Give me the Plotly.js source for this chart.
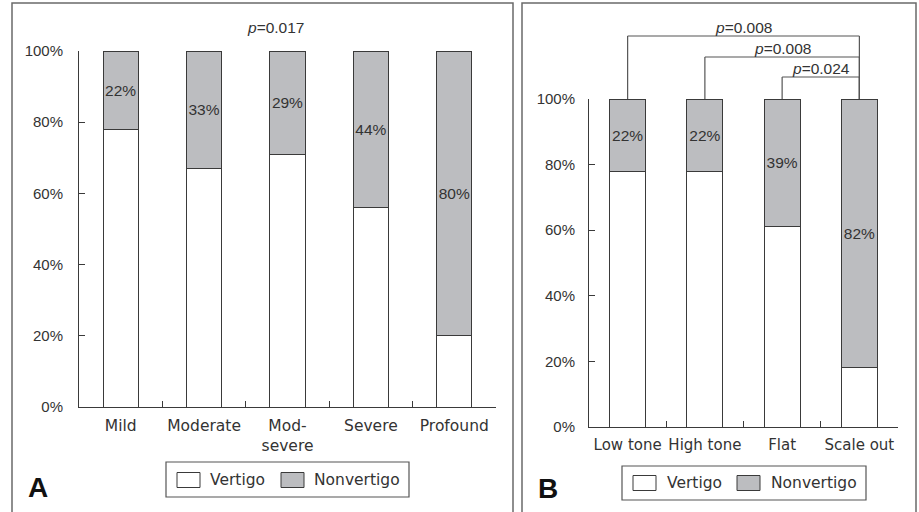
<!DOCTYPE html>
<html>
<head>
<meta charset="utf-8">
<script src="https://cdn.plot.ly/plotly-3.0.1.min.js"></script>
<style>html,body{margin:0;padding:0;background:#fff;}#chart{width:919px;height:512px;}</style>
</head>
<body>
<div id="chart"></div>
<script>
// ---- Data ----
const catsA = ['Mild', 'Moderate', 'Mod-<br>severe', 'Severe', 'Profound'];
const vertigoA = [78, 67, 71, 56, 20];
const nonvertigoA = [22, 33, 29, 44, 80];
const pValueA = '0.017';

const catsB = ['Low tone', 'High tone', 'Flat', 'Scale out'];
const vertigoB = [78, 78, 61, 18];
const nonvertigoB = [22, 22, 39, 82];
const bracketFromB = ['Low tone', 'High tone', 'Flat'];
const bracketToB = ['Scale out', 'Scale out', 'Scale out'];
const pValuesB = ['0.008', '0.008', '0.024'];

const seriesNames = ['Vertigo', 'Nonvertigo'];
const panelLabels = ['A', 'B'];
const yTicks = [0, 20, 40, 60, 80, 100];

// ---- Styling ----
const W = 919, H = 512;
const px = v => v / W;
const py = v => 1 - v / H;
const GRAY = '#bcbdc0';
const EDGE = '#3a3a3a';
const TXT = '#333';
const NUMFONT = 'Liberation Sans, Arial, sans-serif';
const WORDFONT = 'DejaVu Sans, sans-serif';

function barTraces(cats, vert, non, xa, ya, width) {
  return [
    {type: 'bar', x: cats, y: vert, name: seriesNames[0], xaxis: xa, yaxis: ya,
     width: width, marker: {color: '#ffffff', line: {color: EDGE, width: 1}},
     hoverinfo: 'skip', showlegend: false},
    {type: 'bar', x: cats, y: non, name: seriesNames[1], xaxis: xa, yaxis: ya,
     width: width, marker: {color: GRAY, line: {color: EDGE, width: 1}},
     text: non.map(v => v + '%'), textposition: 'inside', insidetextanchor: 'middle',
     textangle: 0, constraintext: 'none',
     insidetextfont: {family: NUMFONT, size: 15.5, color: TXT},
     hoverinfo: 'skip', showlegend: false}
  ];
}

const data = [
  ...barTraces(catsA, vertigoA, nonvertigoA, 'x', 'y', 0.42),
  ...barTraces(catsB, vertigoB, nonvertigoB, 'x2', 'y2', 0.466)
];

function xAxis(domain, n, fs) {
  return {domain: domain, type: 'category', range: [-0.5, n - 0.5],
    showline: true, linecolor: EDGE, linewidth: 1, showgrid: false, zeroline: false,
    ticks: 'inside', tickson: 'boundaries', ticklen: 6, tickcolor: EDGE, tickwidth: 1,
    ticklabelstandoff: 4, tickangle: 0,
    tickfont: {family: WORDFONT, size: fs, color: TXT}, fixedrange: true};
}
function yAxis(domain, anchor, standoff) {
  return {domain: domain, anchor: anchor, range: [0, 100],
    tickvals: yTicks, ticktext: yTicks.map(v => v + '%'),
    showline: true, linecolor: EDGE, linewidth: 1, showgrid: false, zeroline: false,
    ticks: 'inside', ticklen: 6, tickcolor: EDGE, tickwidth: 1,
    ticklabelstandoff: standoff,
    tickfont: {family: NUMFONT, size: 15, color: TXT}, fixedrange: true};
}

const shapes = [];
const annotations = [];

// panel frames
shapes.push({type: 'rect', xref: 'paper', yref: 'paper', x0: px(12), x1: px(513), y0: -0.1, y1: py(3),
  line: {color: '#6a6a6a', width: 1.5}, fillcolor: 'rgba(0,0,0,0)'});
shapes.push({type: 'rect', xref: 'paper', yref: 'paper', x0: px(522), x1: px(916), y0: -0.1, y1: py(3),
  line: {color: '#6a6a6a', width: 1.5}, fillcolor: 'rgba(0,0,0,0)'});

// p value panel A
annotations.push({xref: 'paper', yref: 'paper', x: px(275), y: py(27), xanchor: 'center', yanchor: 'middle',
  text: '<i>p</i>=' + pValueA, showarrow: false, font: {family: NUMFONT, size: 15.5, color: TXT}});

// brackets panel B
const bracketLevels = [py(36), py(57), py(77)];
const barTop = py(99);
bracketFromB.forEach((from, i) => {
  const x0 = catsB.indexOf(from), x1 = catsB.indexOf(bracketToB[i]);
  const yl = bracketLevels[i];
  const ln = {color: '#555', width: 1.2};
  shapes.push({type: 'line', xref: 'x2', yref: 'paper', x0: x0, x1: x0, y0: barTop, y1: yl, line: ln});
  shapes.push({type: 'line', xref: 'x2', yref: 'paper', x0: x0, x1: x1, y0: yl, y1: yl, line: ln});
  shapes.push({type: 'line', xref: 'x2', yref: 'paper', x0: x1, x1: x1, y0: barTop, y1: yl, line: ln});
  annotations.push({xref: 'x2', yref: 'paper', x: (x0 + x1) / 2, y: yl, xanchor: 'center', yanchor: 'bottom',
    yshift: -2, text: '<i>p</i>=' + pValuesB[i], showarrow: false,
    font: {family: NUMFONT, size: 15.5, color: TXT}});
});

// custom legends
function legend(box, sq1, txt1, sq2, txt2, cy) {
  shapes.push({type: 'rect', xref: 'paper', yref: 'paper', x0: px(box[0]), x1: px(box[1]), y0: py(box[3]), y1: py(box[2]),
    line: {color: '#555', width: 1.2}, fillcolor: '#fff'});
  shapes.push({type: 'rect', xref: 'paper', yref: 'paper', x0: px(sq1), x1: px(sq1 + 23), y0: py(cy + 7.5), y1: py(cy - 7.5),
    line: {color: EDGE, width: 1}, fillcolor: '#fff'});
  shapes.push({type: 'rect', xref: 'paper', yref: 'paper', x0: px(sq2), x1: px(sq2 + 23), y0: py(cy + 7.5), y1: py(cy - 7.5),
    line: {color: EDGE, width: 1}, fillcolor: GRAY});
  annotations.push({xref: 'paper', yref: 'paper', x: px(txt1), y: py(cy), xanchor: 'left', yanchor: 'middle',
    text: seriesNames[0], showarrow: false, font: {family: WORDFONT, size: 15.5, color: TXT}});
  annotations.push({xref: 'paper', yref: 'paper', x: px(txt2), y: py(cy), xanchor: 'left', yanchor: 'middle',
    text: seriesNames[1], showarrow: false, font: {family: WORDFONT, size: 15.5, color: TXT}});
}
legend([166, 409, 462, 497], 177, 208, 281, 312, 480);
legend([622, 866, 466, 500], 633, 665, 737, 769, 483);

// panel letters
annotations.push({xref: 'paper', yref: 'paper', x: px(38), y: py(487), xanchor: 'center', yanchor: 'middle',
  text: '<b>' + panelLabels[0] + '</b>', showarrow: false, font: {family: NUMFONT, size: 28, color: '#111'}});
annotations.push({xref: 'paper', yref: 'paper', x: px(548), y: py(488), xanchor: 'center', yanchor: 'middle',
  text: '<b>' + panelLabels[1] + '</b>', showarrow: false, font: {family: NUMFONT, size: 28, color: '#111'}});

const layout = {
  width: W, height: H,
  margin: {l: 0, r: 0, t: 0, b: 0},
  paper_bgcolor: '#fff', plot_bgcolor: 'rgba(0,0,0,0)',
  barmode: 'stack', showlegend: false,
  xaxis: Object.assign(xAxis([px(79), px(496)], catsA.length, 15.5), {anchor: 'y'}),
  yaxis: yAxis([py(407), py(51)], 'x', 12),
  xaxis2: Object.assign(xAxis([px(589), px(898)], catsB.length, 15), {anchor: 'y2'}),
  yaxis2: yAxis([py(427), py(99)], 'x2', 10),
  shapes: shapes,
  annotations: annotations
};

Plotly.newPlot('chart', data, layout, {displayModeBar: false, staticPlot: true});
</script>
</body>
</html>
